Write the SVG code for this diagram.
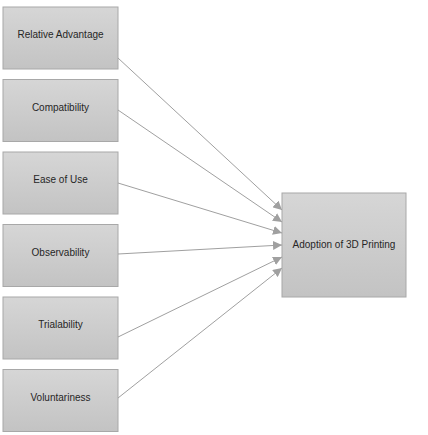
<svg xmlns="http://www.w3.org/2000/svg" width="428" height="435" viewBox="0 0 428 435">
<defs>
<linearGradient id="g" x1="0" y1="0" x2="0" y2="1">
<stop offset="0" stop-color="#d6d6d6"/>
<stop offset="1" stop-color="#c3c3c3"/>
</linearGradient>
<marker id="ah" viewBox="0 0 10 10" refX="10" refY="5" markerWidth="9" markerHeight="9" markerUnits="userSpaceOnUse" orient="auto">
<path d="M0,0 L10,5 L0,10 z" fill="#a0a0a0"/>
</marker>
</defs>
<style>
.box{fill:url(#g);stroke:#a8a8a8;stroke-width:1}
.lbl{font-family:"Liberation Sans",Arial,sans-serif;font-size:10px;fill:#262626;text-anchor:middle}
.conn{stroke:#a0a0a0;stroke-width:1;fill:none;marker-end:url(#ah)}
</style>
<rect width="428" height="435" fill="#ffffff"/>
<g id="n1"><rect class="box" x="3" y="7" width="115" height="62"/><text class="lbl" x="60.5" y="38">Relative Advantage</text></g>
<g id="n2"><rect class="box" x="3" y="79.5" width="115" height="62"/><text class="lbl" x="60.5" y="110.5">Compatibility</text></g>
<g id="n3"><rect class="box" x="3" y="152" width="115" height="62"/><text class="lbl" x="60.5" y="183">Ease of Use</text></g>
<g id="n4"><rect class="box" x="3" y="224.5" width="115" height="62"/><text class="lbl" x="60.5" y="255.5">Observability</text></g>
<g id="n5"><rect class="box" x="3" y="297" width="115" height="62"/><text class="lbl" x="60.5" y="328">Trialability</text></g>
<g id="n6"><rect class="box" x="3" y="369.5" width="115" height="62"/><text class="lbl" x="60.5" y="400.5">Voluntariness</text></g>
<g id="target"><rect class="box" x="282" y="193" width="124" height="104"/><text class="lbl" x="344" y="248">Adoption of 3D Printing</text></g>
<g id="connectors">
<line class="conn" x1="118" y1="58" x2="282" y2="210"/>
<line class="conn" x1="118" y1="110" x2="282" y2="222"/>
<line class="conn" x1="118" y1="183" x2="282" y2="233"/>
<line class="conn" x1="118" y1="254" x2="282" y2="245"/>
<line class="conn" x1="118" y1="337" x2="282" y2="257"/>
<line class="conn" x1="118" y1="398" x2="282" y2="268"/>
</g>
</svg>
